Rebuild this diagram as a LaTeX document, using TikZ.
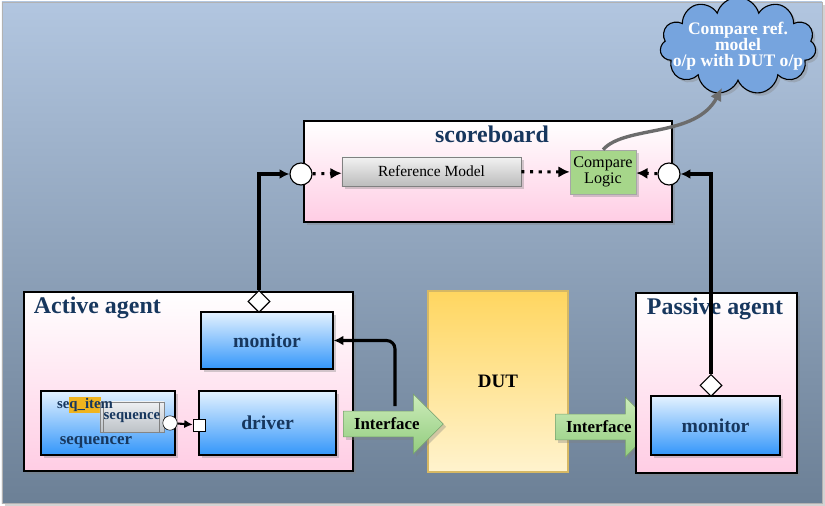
\documentclass[tikz,border=0pt]{standalone}
\usepackage{fontspec}
\setmainfont{Liberation Serif}
\usepackage{tikz}
\usetikzlibrary{positioning,shapes,arrows.meta,shadows,calc}
\definecolor{bgtop}{RGB}{178,198,224}
\definecolor{bgbot}{RGB}{108,128,150}
\definecolor{titleblue}{RGB}{23,55,94}
\definecolor{pinkbot}{RGB}{255,205,228}
\definecolor{bluetop}{RGB}{228,242,255}
\definecolor{bluebot}{RGB}{51,150,250}
\definecolor{greytop}{RGB}{242,242,242}
\definecolor{greybot}{RGB}{188,188,188}
\definecolor{logicgreen}{RGB}{166,214,138}
\definecolor{itemorange}{RGB}{240,180,30}
\definecolor{duttop}{RGB}{255,214,96}
\definecolor{dutbot}{RGB}{255,243,206}
\definecolor{dutedge}{RGB}{214,184,100}
\definecolor{iftop}{RGB}{204,236,186}
\definecolor{ifbot}{RGB}{146,204,126}
\definecolor{ifedge}{RGB}{120,160,110}
\definecolor{cloudblue}{RGB}{118,164,222}
\newcommand{\fs}[1]{\fontsize{#1}{#1}\selectfont}

\begin{document}
\begin{tikzpicture}[
    x=0.025cm,y=-0.025cm,
    shade/.style={drop shadow={shadow xshift=2pt,shadow yshift=-2pt,opacity=.35}},
    agent/.style={draw,thick,top color=white,bottom color=pinkbot,shade,inner sep=0pt},
    comp/.style={draw,thick,top color=bluetop,bottom color=bluebot,shade,inner sep=0pt,
      font=\bfseries\fs{14},text=titleblue},
    title/.style={font=\bfseries\fs{17},text=titleblue},
    port/.style={circle,draw,thick,fill=white,minimum size=0.55cm,inner sep=0pt},
    tap/.style={diamond,draw,thick,fill=white,minimum size=0.55cm,inner sep=0pt},
    wire/.style={line width=2.2pt,-{Latex[length=7pt,width=7pt]}},
    dots/.style={line width=2.2pt,dash pattern=on 2.2pt off 4pt,-{Latex[length=8pt,width=8pt]}},
    iface/.style={single arrow,draw=ifedge,top color=iftop,bottom color=ifbot,shade,
      minimum height=2.5cm,minimum width=1.5cm,single arrow head extend=0.3cm,
      inner sep=2pt,font=\bfseries\fs{12}}
  ]
    \useasboundingbox (0,0) rectangle (825,506);
    \shade[top color=bgtop,bottom color=bgbot,draw=gray!60] (2,2) rectangle (822,503);

    % scoreboard
    \node[agent,minimum width=9.2cm,minimum height=2.525cm] (sb) at (488,171.5) {};
    \node[title] (sbtitle) at (492,134) {scoreboard};
    \node[port] (sbin) at (301,174) {};
    \node[port] (sbout) at (669,174) {};
    \node[draw=gray,top color=greytop,bottom color=greybot,shade,minimum width=4.475cm,
      minimum height=0.725cm,font=\fs{11}] (refm) at (431.5,171.5) {Reference Model};
    \node[draw=gray!70,fill=logicgreen,shade,minimum width=1.65cm,minimum height=1.1cm,
      inner sep=0pt,align=center,font=\fs{11.5}] (cmp) at (603,172) {Compare\\Logic};
    \draw[dots] (sbin) -- (refm);
    \draw[dots] (refm) -- (cmp);
    \draw[dots] (sbout) -- (cmp);

    % cloud
    \node[cloud,cloud puffs=11,aspect=2.1,draw,thick,fill=cloudblue,shade,
      inner xsep=-0.35cm,inner ysep=-0.4cm,
      minimum width=3.9cm,minimum height=1.95cm,align=center,text=white,
      font=\bfseries\fs{12.5}] (cloud) at (738,46) {Compare ref.\\[-1pt]model\\[-1pt]o/p with DUT o/p};
    \coordinate (cltip) at (722,88);
    \draw[line width=2.4pt,gray!85!black,-{Latex[length=9pt,width=9pt]}]
      (cmp.north) .. controls (625,125) and (695,138) .. (cltip);

    % active agent
    \node[agent,minimum width=8.225cm,minimum height=4.475cm] (act) at (188.5,381.5) {};
    \node[title,anchor=west] (acttitle) at (29,308) {Active agent};
    \node[comp,minimum width=3.3cm,minimum height=1.425cm] (amon) at (267,340.5) {monitor};
    \node[comp,minimum width=3.425cm,minimum height=1.6cm] (drv) at (267.5,423) {driver};
    \node[comp,minimum width=3.35cm,minimum height=1.6cm] (sqr) at (108,423) {};
    \node[font=\bfseries\fs{12},text=titleblue] (sqrtxt) at (96,442) {sequencer};
    \node[fill=itemorange,minimum width=0.8cm,minimum height=0.4cm,inner sep=0pt] (item) at (85,405) {};
    \node[draw=gray,top color=greytop,bottom color=greybot!90,opacity=.92,minimum width=1.6cm,
      minimum height=0.75cm,inner sep=0pt,font=\bfseries\fs{10.5},text=titleblue] (seq) at (132,417) {};
    \draw[gray] ($(seq.north west)+(4,0)$) -- ($(seq.south west)+(4,0)$)
                ($(seq.north east)+(-5,0)$) -- ($(seq.south east)+(-5,0)$);
    \node[font=\bfseries\fs{10.5},text=titleblue] (itemtxt) at (85,405) {seq\_item};
    \node[font=\bfseries\fs{10.5},text=titleblue] (seqtxt) at (132,418) {sequence};
    \node[circle,draw,fill=white,minimum size=0.36cm,inner sep=0pt] (seqport) at (170,423) {};
    \node[draw,fill=white,minimum size=0.3cm,inner sep=0pt] (drvport) at (199,425) {};
    \draw[line width=1.5pt,-{Latex[length=6pt,width=6pt]}] (seqport) -- (drvport);
    \node[tap,anchor=south] (amtap) at (259,313) {};
    \draw[wire] (amtap.north) |- (sbin.west);

    % DUT
    \node[draw=dutedge,thick,top color=duttop,bottom color=dutbot,minimum width=3.5cm,
      minimum height=4.525cm,font=\bfseries\fs{13.5}] (dut) at (498,381.5) {DUT};

    % interfaces
    \node[iface,anchor=tail] (ifl) at (343,424) {Interface};
    \node[iface,anchor=tail] (ifr) at (555,427) {Interface};
    \coordinate (iftap) at (395,406);
    \draw[wire,rounded corners=6pt] (iftap) |- (amon.east);

    % passive agent
    \node[agent,minimum width=4.025cm,minimum height=4.5cm] (pas) at (716.5,383) {};
    \node[title] (pastitle) at (715,309) {Passive agent};
    \node[comp,minimum width=3.225cm,minimum height=1.475cm] (pmon) at (715.5,425.5) {monitor};
    \node[tap,anchor=south] (pmtap) at (711,397) {};
    \draw[wire] (pmtap.north) |- (sbout.east);
\end{tikzpicture}
\end{document}
